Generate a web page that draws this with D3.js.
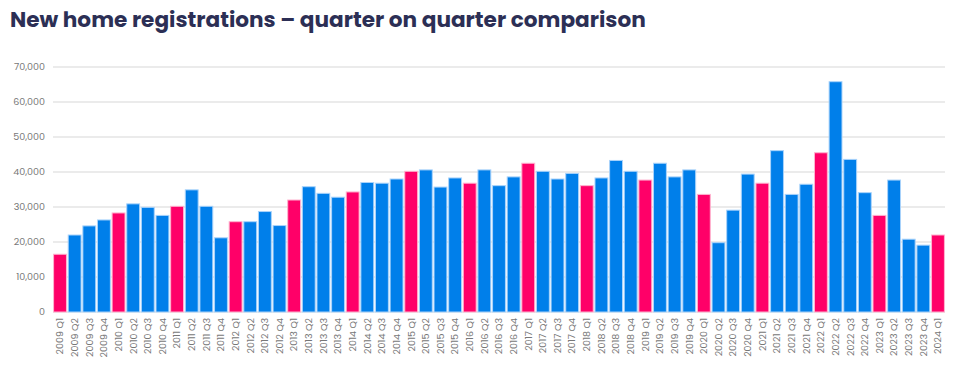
<!DOCTYPE html>
<html>
<head>
<meta charset="utf-8">
<script src="https://cdn.jsdelivr.net/npm/d3@7"></script>
<style>
  body { margin: 0; background: #fff; }
  svg { display: block; }
</style>
</head>
<body>
<div id="chart"></div>
<script>
// quarters 2009 Q1 .. 2024 Q1
const quarters = [];
for (let y = 2009; y <= 2024; y++) {
    for (let q = 1; q <= 4; q++) {
        if (y === 2024 && q > 1) break;
        quarters.push(y + " Q" + q);
    }
}

const registrations = [
    16500, 22000, 24600, 26300,
    28300, 30900, 29900, 27600,
    30200, 34900, 30200, 21200,
    25800, 25800, 28700, 24700,
    32000, 35800, 33900, 32800,
    34300, 37000, 36800, 38000,
    40200, 40600, 35700, 38300,
    36800, 40600, 36100, 38600,
    42500, 40200, 38000, 39600,
    36100, 38300, 43300, 40200,
    37700, 42500, 38600, 40600,
    33600, 19800, 29100, 39400,
    36800, 46100, 33600, 36500,
    45500, 65800, 43600, 34100,
    27600, 37700, 20800, 19100,
    22000
];

const yTicks = [0, 10000, 20000, 30000, 40000, 50000, 60000, 70000];

const width = 958, height = 366;
const margin = { top: 67, right: 13, bottom: 54, left: 53 };

const svg = d3.select("#chart")
    .append("svg")
    .attr("width", width)
    .attr("height", height);

svg.append("text")
    .attr("x", 10)
    .attr("y", 27)
    .attr("font-family", "Poppins, Inter, 'Noto Sans', sans-serif")
    .attr("font-weight", 700)
    .attr("font-size", 21.6)
    .attr("fill", "#2c2f55")
    .text("New home registrations \u2013 quarter on quarter comparison");

const x = d3.scaleBand()
    .domain(quarters)
    .range([margin.left, width - margin.right])
    .paddingInner(0.12)
    .paddingOuter(0.04);

const y = d3.scaleLinear()
    .domain([0, 70000])
    .range([height - margin.bottom, margin.top]);

// grid
svg.append("g")
    .selectAll("line")
    .data(yTicks)
    .join("line")
    .attr("x1", margin.left)
    .attr("x2", width - margin.right)
    .attr("y1", d => y(d))
    .attr("y2", d => y(d))
    .attr("stroke", "#e4e4e4")
    .attr("stroke-width", 1.5);

// y labels
svg.append("g")
    .selectAll("text")
    .data(yTicks)
    .join("text")
    .attr("x", 45)
    .attr("y", d => y(d))
    .attr("dy", "0.35em")
    .attr("text-anchor", "end")
    .attr("font-family", "Poppins, Lato, 'Open Sans', sans-serif")
    .attr("font-size", 9.5)
    .attr("fill", "#777")
    .text(d => d3.format(",")(d));

// bars (Q1 highlighted)
svg.append("g")
    .selectAll("rect")
    .data(quarters)
    .join("rect")
    .attr("x", d => x(d))
    .attr("width", x.bandwidth())
    .attr("y", (d, i) => y(registrations[i]))
    .attr("height", (d, i) => y(0) - y(registrations[i]))
    .attr("fill", d => d.endsWith("Q1") ? "#ff0068" : "#007fea")
    .attr("stroke", d => d.endsWith("Q1") ? "#ffb3cf" : "#a9d3fb")
    .attr("stroke-width", 1);

// x labels, rotated
svg.append("g")
    .selectAll("text")
    .data(quarters)
    .join("text")
    .attr("transform", d => `translate(${x(d) + x.bandwidth() / 2},318) rotate(-90)`)
    .attr("dy", "0.35em")
    .attr("text-anchor", "end")
    .attr("font-family", "Poppins, Lato, 'Open Sans', sans-serif")
    .attr("font-size", 9.5)
    .attr("fill", "#777")
    .text(d => d);
</script>
</body>
</html>
